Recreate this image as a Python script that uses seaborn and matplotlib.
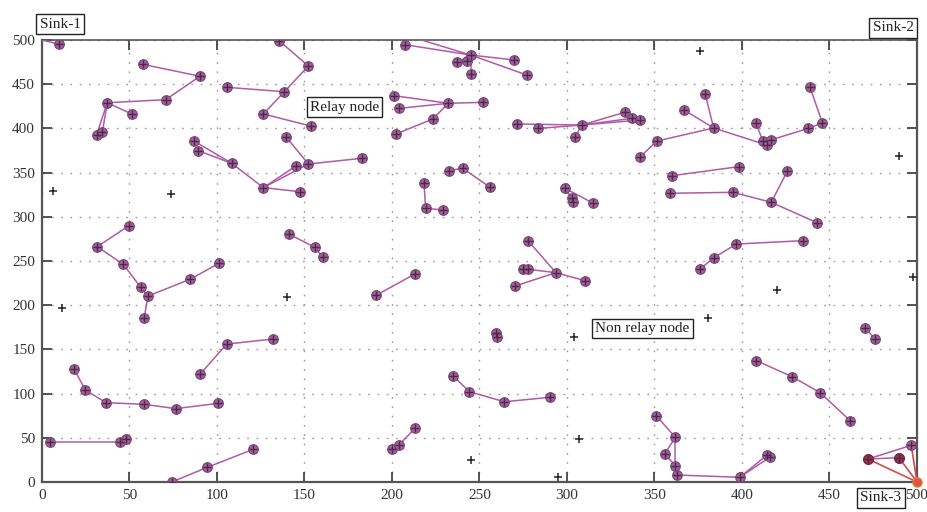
import matplotlib
matplotlib.use("Agg")
import matplotlib.pyplot as plt
import seaborn as sns
import pandas as pd

# ---------------- data ----------------
# relay-node trees, each as a list of polylines of (x, y) node positions
cluster_sink1 = [[(0, 500), (10, 495)]]
cluster_a = [[(57.5, 472.5), (90.3, 459), (70.7, 432.5), (37.3, 429), (51.6, 416)],
             [(37.3, 429), (34.5, 396)],
             [(37.3, 429), (31.2, 393)]]
cluster_b = [[(135.6, 499), (152.2, 470.6), (138.5, 441.5), (126.5, 416.3), (153.5, 402.7)],
             [(105.5, 446.5), (138.5, 441.5)]]
cluster_c = [[(86.9, 385.7), (108.4, 360.5), (126.5, 333), (147.4, 328.4)],
             [(89.3, 374.8), (108.4, 360.5)],
             [(126.5, 333), (145.1, 357.5)],
             [(126.5, 333), (152.2, 359.7), (182.7, 366.2)],
             [(139.4, 390.6), (152.2, 359.7)]]
cluster_d = [[(49.7, 290), (31.6, 266.2), (46.5, 246.2), (56.4, 220.2), (60.6, 210.4),
              (84.6, 229.3), (101.1, 247.4)],
             [(60.6, 210.4), (58.3, 185.1)]]
cluster_e = [[(141.3, 280.2), (156, 265.4), (160.4, 254.2)]]
cluster_f = [[(90.3, 121.8), (105.5, 156), (132.2, 161.8)]]
cluster_g = [[(18.3, 127.8), (24.8, 104), (36.6, 89.7), (58.3, 87.9), (76.4, 83), (100.8, 89)]]
cluster_h = [[(4.6, 44.9), (44.6, 44.9), (47.8, 48.6)]]
cluster_i = [[(74.5, 0.3), (94.5, 16.6), (120.7, 37)]]
cluster_j = [[(190.9, 211.2), (213.1, 235.3)]]
cluster_k = [[(218.3, 337.9), (219.2, 309.6), (229.3, 307.7)]]
cluster_l = [[(232.6, 352.2), (240.4, 354.9), (256, 333.4)]]
cluster_m = [[(298.9, 332.2), (315, 315.3)],
             [(298.9, 332.2), (302.7, 320.9), (303.2, 317)]]
cluster_n = [[(277.9, 272.6), (293.7, 236.8), (310.3, 227.7)],
             [(274.7, 241.3), (277.9, 240.6), (293.7, 236.8)],
             [(270.3, 221.7), (293.7, 236.8)]]
cluster_o = [[(259.4, 168.2), (260.2, 164.4)]]
cluster_p = [[(235, 119.9), (244.2, 102.2), (264.2, 90.8), (290.3, 95.8)]]
cluster_q = [[(200.2, 37), (204, 41.9), (213.1, 60.7)]]
cluster_r = [[(207.4, 494.7), (245, 483), (277, 460.4)],
             [(207, 506), (245, 483), (269.9, 477.4)],
             [(237.3, 474.8), (245, 483)],
             [(243, 476.6), (245, 483)],
             [(245, 461.5), (245, 483)]]
cluster_s = [[(201.3, 437), (232.2, 428.4), (251.8, 429.5)],
             [(204.2, 422.7), (232.2, 428.4), (223.3, 410.6), (202.3, 393.7)]]
cluster_t = [[(271.2, 405), (308.4, 403.8), (333, 418.2)],
             [(283.6, 400), (308.4, 403.8), (337.1, 411.4)],
             [(304.8, 390.6), (308.4, 403.8), (341.9, 409.5)]]
cluster_u = [[(341.9, 368), (351.4, 385.7), (383.8, 400.5), (414.1, 381.2), (416.4, 386.9),
              (437.9, 400), (445.9, 406.3), (438.9, 446.5)],
             [(366.9, 420.8), (383.8, 400.5)],
             [(379, 438.6), (383.8, 400.5)],
             [(408, 405.8), (411.8, 386), (414.1, 381.2)]]
cluster_v = [[(360, 346.5), (398.1, 356.7)]]
cluster_w = [[(359, 326.6), (394.9, 327.7), (416.7, 316.4), (442.9, 293.3)],
             [(416.7, 316.4), (425.9, 351.5)]]
cluster_x = [[(375.8, 240.6), (384, 253.8), (396.8, 269.2), (434.9, 273)]]
cluster_y = [[(470.5, 174.6), (475.8, 161.8)]]
cluster_z = [[(408.2, 137.2), (428.7, 119.1), (444.7, 101), (462, 69)]]
cluster_aa = [[(351, 75), (361.9, 50.5), (355.8, 31.7), (361.9, 18.4), (363, 7.9),
               (398.7, 5.3), (415.8, 27.9)],
              [(361.9, 50.5), (361.9, 18.4)],
              [(398.7, 5.3), (414.3, 30.5)]]
cluster_sink3 = [[(496.7, 41.5), (472, 26), (489.7, 27.5)]]
sink3_links = [[(472, 26), (500, 0)], [(489.7, 27.5), (500, 0)], [(496.7, 41.5), (500, 0)]]

# non relay nodes
nonrelay_x = [6.5, 73.5, 11.6, 140.2, 304, 245, 307, 295, 375.8, 489.7, 420, 380.6, 497.7]
nonrelay_y = [329.5, 325.8, 197.2, 209.6, 164.4, 24.9, 48.6, 6, 487.6, 368.8, 217.2, 185.2, 232.3]

# sinks and labels
sink_names = ["Sink-1", "Sink-2", "Sink-3"]
sink_x = [0, 500, 500]
sink_y = [500, 500, 0]
x_ticks = [0, 50, 100, 150, 200, 250, 300, 350, 400, 450, 500]
y_ticks = [0, 50, 100, 150, 200, 250, 300, 350, 400, 450, 500]

clusters = [cluster_sink1, cluster_a, cluster_b, cluster_c, cluster_d, cluster_e, cluster_f,
            cluster_g, cluster_h, cluster_i, cluster_j, cluster_k, cluster_l, cluster_m,
            cluster_n, cluster_o, cluster_p, cluster_q, cluster_r, cluster_s, cluster_t,
            cluster_u, cluster_v, cluster_w, cluster_x, cluster_y, cluster_z, cluster_aa,
            cluster_sink3]

# ---------------- build tables ----------------
rows = []
eid = 0
for cl in clusters:
    for path in cl:
        for p0, p1 in zip(path[:-1], path[1:]):
            rows.append({"edge": eid, "x": p0[0], "y": p0[1]})
            rows.append({"edge": eid, "x": p1[0], "y": p1[1]})
            eid += 1
edges = pd.DataFrame(rows)

red_rows = []
for k, path in enumerate(sink3_links):
    for p in path:
        red_rows.append({"edge": k, "x": p[0], "y": p[1]})
red_edges = pd.DataFrame(red_rows)

pts = set()
for cl in clusters:
    for path in cl:
        for p in path:
            pts.add(p)
pts.discard((0, 500))
nodes = pd.DataFrame(sorted(pts), columns=["x", "y"])
dark_nodes = nodes[(nodes.x > 465) & (nodes.y < 35)]
nonrelay = pd.DataFrame({"x": nonrelay_x, "y": nonrelay_y})

# ---------------- plot ----------------
sns.set_style("ticks")
plt.rcParams["font.family"] = ["Liberation Serif", "DejaVu Serif"]

fig = plt.figure(figsize=(9.28, 5.12), dpi=100)
ax = fig.add_axes([42 / 928, 1 - 482 / 512, (917 - 42) / 928, (482 - 40) / 512])

line_col = "#b05aa8"
sns.lineplot(data=edges, x="x", y="y", units="edge", estimator=None, sort=False,
             color=line_col, lw=1.1, ax=ax, legend=False, zorder=3)
sns.lineplot(data=red_edges, x="x", y="y", units="edge", estimator=None, sort=False,
             color="#d8484e", lw=1.2, ax=ax, legend=False, zorder=3)
sns.scatterplot(data=nodes, x="x", y="y", marker="o", s=48, color="#a0609a",
                edgecolor="#7a3f74", linewidth=0.8, ax=ax, zorder=4)
sns.scatterplot(data=dark_nodes, x="x", y="y", marker="o", s=48, color="#93304f",
                edgecolor="#7a2040", linewidth=0.8, ax=ax, zorder=4)
sns.scatterplot(data=nodes, x="x", y="y", marker="+", s=34, color="#4a2a46",
                linewidth=1.0, ax=ax, zorder=5)
sns.scatterplot(data=nonrelay, x="x", y="y", marker="+", s=40, color="#222222",
                linewidth=1.1, ax=ax, zorder=5)
ax.scatter([sink_x[2]], [sink_y[2]], s=40, facecolor="#d9534f", edgecolor="#e8742a",
           linewidth=1.2, zorder=6, clip_on=False)

ax.set_xlim(0, 500)
ax.set_ylim(0, 500)
ax.set_xticks(x_ticks)
ax.set_yticks(y_ticks)
ax.set_xlabel("")
ax.set_ylabel("")
ax.tick_params(direction="in", length=7, width=1.3, color="#444444", top=True, right=True,
               labelsize=11, labelcolor="#333333", pad=5)
ax.grid(True, color="#9a9a9a", lw=1.0, linestyle=(0, (1.2, 5.5)))
for sp in ax.spines.values():
    sp.set_visible(True)
    sp.set_color("#555555")
    sp.set_linewidth(1.6)
ax.spines["top"].set_linewidth(1.2)

box = dict(boxstyle="square,pad=0.22", facecolor="white", edgecolor="#222222", linewidth=1.0)
label_pos = [(10.3, 518), (486.3, 513.6), (479.4, -18)]
for name, (lx, ly) in zip(sink_names, label_pos):
    ax.text(lx, ly, name, ha="center", va="center", fontsize=11, color="#222222",
            bbox=box, clip_on=False, zorder=7)
ax.text(172.9, 424.2, "Relay node", ha="center", va="center", fontsize=11,
        color="#222222", bbox=box, zorder=7)
ax.text(342.9, 173.6, "Non relay node", ha="center", va="center", fontsize=11,
        color="#222222", bbox=box, zorder=7)

fig.savefig("out.png", dpi=100)
